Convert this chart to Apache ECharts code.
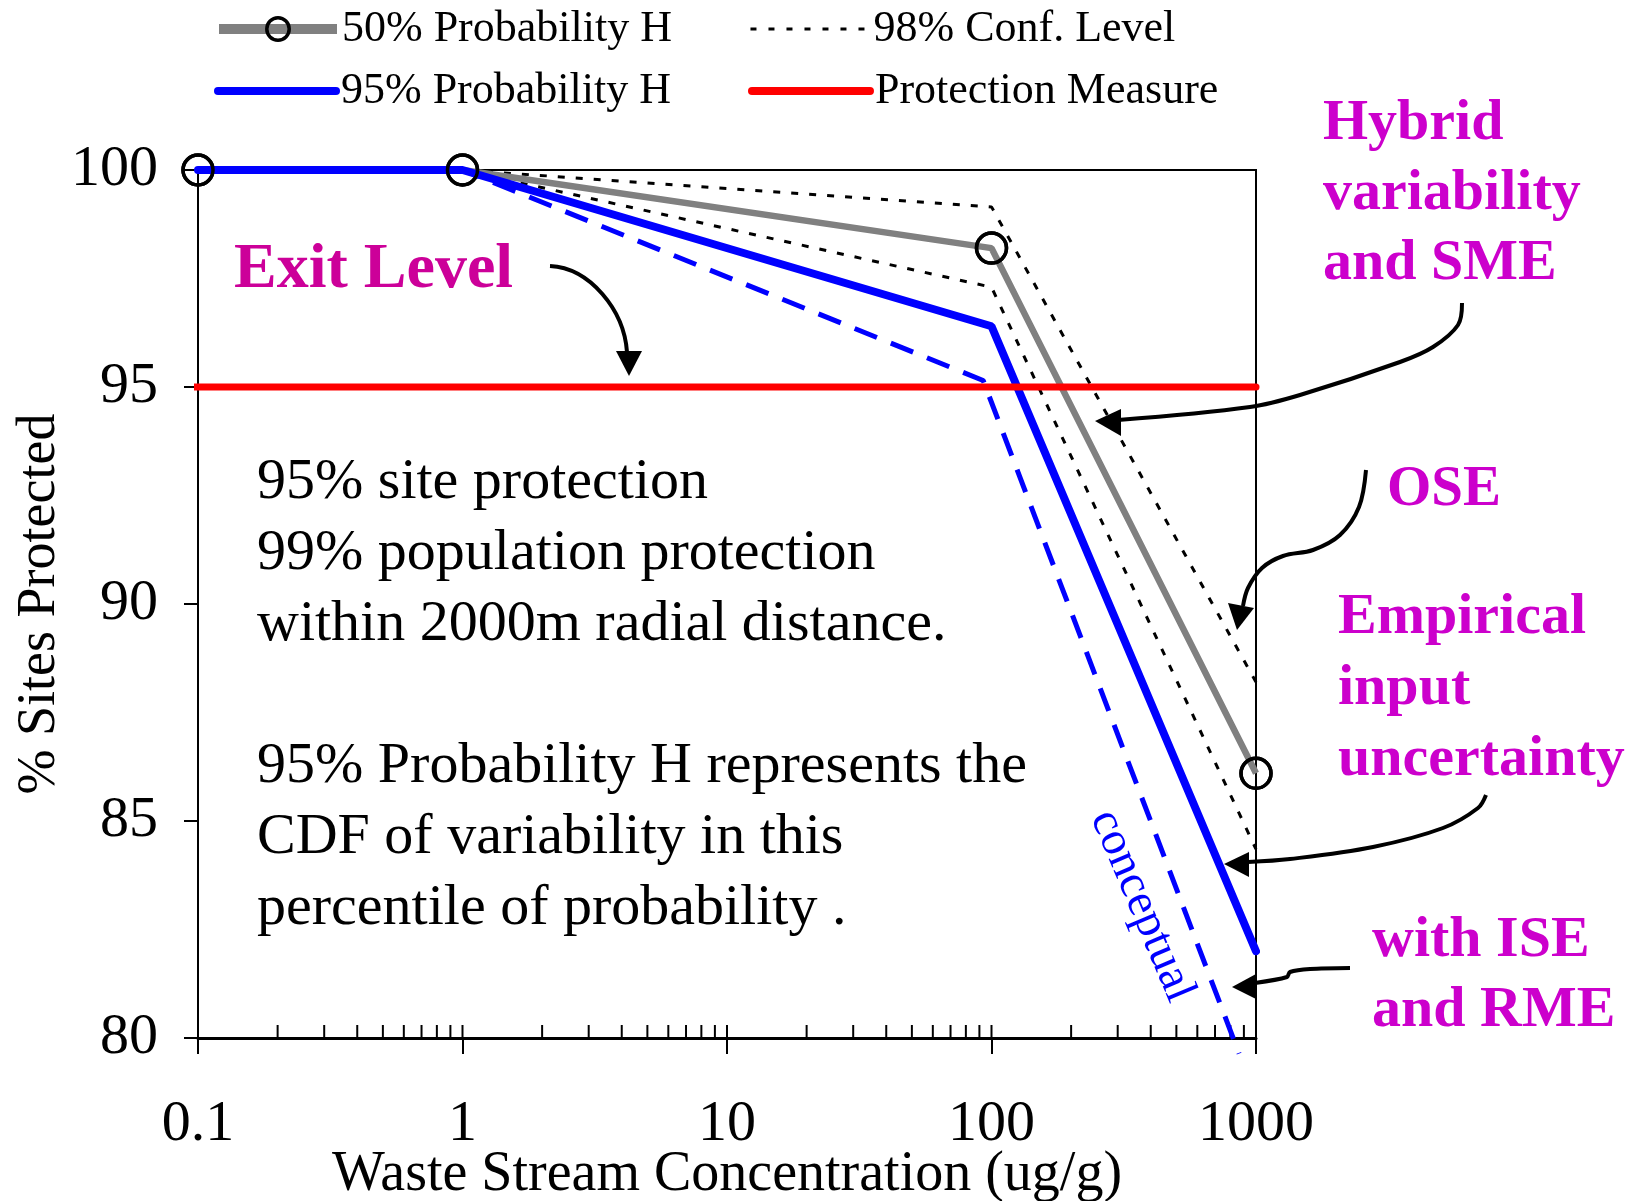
<!DOCTYPE html>
<html>
<head>
<meta charset="utf-8">
<script src="https://cdn.jsdelivr.net/npm/echarts@6/dist/echarts.min.js"></script>
<style>
  html, body { margin: 0; padding: 0; background: #fff; }
  #chart { width: 1633px; height: 1201px; }
</style>
</head>
<body>
<div id="chart"></div>
<script>
// waste stream concentration (ug/g) and % sites protected
const concX = [0.1, 1, 100, 1000];
const prob50 = [100, 100, 98.2, 86.1];
const prob95 = [100, 100, 96.4, 82.0];
const confUpper = [100, 100, 99.15, 88.2];
const confLower = [100, 100, 97.3, 84.35];
const conceptualX = [1, 93, 863];
const conceptualY = [100, 95.15, 79.64];
const protectionX = [0.087, 1000];
const protectionY = [95, 95];
const majorTicks = [0.1, 1, 10, 100, 1000];
const minorTicks = [0.2, 0.3, 0.4, 0.5, 0.6, 0.7, 0.8, 0.9,
  2, 3, 4, 5, 6, 7, 8, 9, 20, 30, 40, 50, 60, 70, 80, 90,
  200, 300, 400, 500, 600, 700, 800, 900];

const serif = "'Liberation Serif', 'Times New Roman', serif";
const pair = (xs, ys) => xs.map((x, i) => [x, ys[i]]);
const noSymbol = { color: "rgba(0,0,0,0)", borderWidth: 0 };

const chart = echarts.init(document.getElementById("chart"));

const legendCommon = {
  left: 209,
  itemWidth: 118,
  itemHeight: 28,
  itemGap: 77,
  textStyle: { fontFamily: serif, fontSize: 44, color: "#000", lineHeight: 28 }
};

chart.setOption({
  animation: false,
  backgroundColor: "#fff",
  legend: [
    Object.assign({
      top: 2,
      data: [
        { name: "50% Probability H", lineStyle: { width: 10 },
          itemStyle: { color: "rgba(0,0,0,0)", borderColor: "#000", borderWidth: 3.5 } },
        { name: "98% Conf. Level", lineStyle: { width: 3, type: [6, 12] }, itemStyle: noSymbol }
      ]
    }, legendCommon),
    Object.assign({
      top: 64,
      data: [
        { name: "95% Probability H", lineStyle: { width: 8, cap: "round" }, itemStyle: noSymbol },
        { name: "Protection Measure", lineStyle: { width: 8, cap: "round" }, itemStyle: noSymbol }
      ]
    }, legendCommon)
  ],
  grid: {
    left: 198, right: 377, top: 170, bottom: 163,
    outerBoundsMode: "none",
    containLabel: false,
    show: true, borderColor: "#000", borderWidth: 2
  },
  xAxis: {
    type: "log",
    logBase: 10,
    min: 0.1,
    max: 1000,
    name: "Waste Stream Concentration (ug/g)",
    nameLocation: "middle",
    nameGap: 109,
    nameMoveOverlap: false,
    nameTextStyle: { fontFamily: serif, fontSize: 56, color: "#000" },
    axisLine: { lineStyle: { color: "#000", width: 3 } },
    axisTick: { show: true, inside: false, length: 16, lineStyle: { color: "#000", width: 2 } },
    axisLabel: {
      margin: 58,
      fontFamily: serif, fontSize: 58, color: "#000",
      formatter: v => String(Number(v.toPrecision(6)))
    },
    splitLine: { show: false }
  },
  yAxis: {
    type: "value",
    min: 80,
    max: 100,
    interval: 5,
    name: "% Sites Protected",
    nameLocation: "middle",
    nameGap: 131,
    nameMoveOverlap: false,
    nameTextStyle: { fontFamily: serif, fontSize: 54, color: "#000" },
    axisLine: { show: true, lineStyle: { color: "#000", width: 2 } },
    axisTick: { show: true, inside: false, length: 14, lineStyle: { color: "#000", width: 2 } },
    axisLabel: { margin: 40, fontFamily: serif, fontSize: 58, color: "#000" },
    splitLine: { show: false }
  },
  series: [
    {
      type: "custom",
      name: "innerTicks",
      silent: true,
      data: majorTicks.concat(minorTicks).map(v => [v, 80]),
      renderItem: (params, api) => {
        const p = api.coord([api.value(0), api.value(1)]);
        return {
          type: "line",
          shape: { x1: p[0], y1: p[1], x2: p[0], y2: p[1] - 13 },
          style: { stroke: "#000", lineWidth: 2 }
        };
      },
      z: 1
    },
    {
      name: "98% Conf. Level",
      type: "line",
      data: pair(concX, confUpper),
      symbol: "none",
      lineStyle: { color: "#000", width: 3, type: [7, 11] },
      itemStyle: { color: "#000" },
      z: 2
    },
    {
      name: "98% Conf. Level",
      type: "line",
      data: pair(concX, confLower),
      symbol: "none",
      lineStyle: { color: "#000", width: 3, type: [7, 11] },
      itemStyle: { color: "#000" },
      z: 2
    },
    {
      name: "50% Probability H",
      type: "line",
      data: pair(concX, prob50),
      symbol: "circle",
      symbolSize: 30,
      lineStyle: { color: "#808080", width: 6.5 },
      itemStyle: { color: "rgba(0,0,0,0)", borderColor: "#000", borderWidth: 3.5 },
      z: 3
    },
    {
      name: "conceptual",
      type: "line",
      data: pair(conceptualX, conceptualY),
      symbol: "none",
      clip: false,
      lineStyle: { color: "#0000ff", width: 5, type: [24, 15], dashOffset: 6 },
      z: 4
    },
    {
      name: "95% Probability H",
      type: "line",
      data: pair(concX, prob95),
      symbol: "none",
      lineStyle: { color: "#0000ff", width: 8, cap: "round" },
      itemStyle: { color: "#0000ff" },
      z: 5
    },
    {
      name: "Protection Measure",
      type: "line",
      data: pair(protectionX, protectionY),
      symbol: "none",
      clip: false,
      lineStyle: { color: "#ff0000", width: 7, cap: "round" },
      itemStyle: { color: "#ff0000" },
      z: 6
    },
    {
      name: "markers50",
      type: "scatter",
      data: pair(concX, prob50),
      symbol: "circle",
      symbolSize: 30,
      clip: false,
      itemStyle: { color: "rgba(0,0,0,0)", borderColor: "#000", borderWidth: 3.5, opacity: 1 },
      z: 8
    }
  ],
  graphic: [
    // notes inside plot
    {
      type: "text", x: 257, y: 447, z: 100,
      style: {
        text: "95% site protection\n99% population protection\nwithin 2000m radial distance.\n\n95% Probability H represents the\nCDF of variability in this\npercentile of probability .",
        font: "58px " + serif, fill: "#000", lineHeight: 71
      }
    },
    {
      type: "text", x: 234, y: 270, z: 100,
      style: { text: "Exit Level", font: "bold 64px " + serif, fill: "#cc0099", verticalAlign: "middle" }
    },
    {
      type: "text", x: 1323, y: 89, z: 100,
      style: { text: "Hybrid\nvariability\nand SME", font: "bold 58px " + serif, fill: "#cc00cc", lineHeight: 70 }
    },
    {
      type: "text", x: 1387, y: 490, z: 100,
      style: { text: "OSE", font: "bold 57px " + serif, fill: "#cc00cc", verticalAlign: "middle" }
    },
    {
      type: "text", x: 1338, y: 583, z: 100,
      style: { text: "Empirical\ninput\nuncertainty", font: "bold 58px " + serif, fill: "#cc00cc", lineHeight: 71 }
    },
    {
      type: "text", x: 1372, y: 906, z: 100,
      style: { text: "with ISE\nand RME", font: "bold 58px " + serif, fill: "#cc00cc", lineHeight: 70 }
    },
    {
      type: "text", x: 1142, y: 906, z: 100,
      rotation: -67 * Math.PI / 180,
      style: { text: "conceptual", font: "47px " + serif, fill: "#0000ff", align: "center", verticalAlign: "middle" }
    },
    // arrows
    {
      type: "bezierCurve", z: 100,
      shape: { x1: 550, y1: 266, cpx1: 590, cpy1: 268, cpx2: 624, cpy2: 310, x2: 627, y2: 352 },
      style: { stroke: "#000", lineWidth: 4, fill: null }
    },
    {
      type: "polygon", z: 100,
      shape: { points: [[629, 376], [616, 351], [642, 351]] },
      style: { fill: "#000" }
    },
    {
      type: "polyline", z: 100,
      shape: { points: [[1462, 303], [1458, 325], [1433, 347], [1400, 362], [1300, 395], [1250, 407], [1118, 420]], smooth: 0.35 },
      style: { stroke: "#000", lineWidth: 4, fill: null }
    },
    {
      type: "polygon", z: 100,
      shape: { points: [[1095, 421], [1121, 409], [1121, 436]] },
      style: { fill: "#000" }
    },
    {
      type: "polyline", z: 100,
      shape: { points: [[1366, 470], [1359, 507], [1340, 535], [1313, 550], [1283, 556], [1262, 568], [1248, 588], [1243, 606]], smooth: 0.35 },
      style: { stroke: "#000", lineWidth: 4, fill: null }
    },
    {
      type: "polygon", z: 100,
      shape: { points: [[1237, 630], [1228, 603], [1254, 608]] },
      style: { fill: "#000" }
    },
    {
      type: "polyline", z: 100,
      shape: { points: [[1486, 795], [1478, 808], [1443, 828], [1373, 847], [1290, 859], [1248, 862]], smooth: 0.35 },
      style: { stroke: "#000", lineWidth: 4, fill: null }
    },
    {
      type: "polygon", z: 100,
      shape: { points: [[1224, 864], [1249, 852], [1249, 877]] },
      style: { fill: "#000" }
    },
    {
      type: "polyline", z: 100,
      shape: { points: [[1350, 968], [1310, 969], [1290, 972], [1287, 977], [1255, 983]], smooth: 0.3 },
      style: { stroke: "#000", lineWidth: 4, fill: null }
    },
    {
      type: "polygon", z: 100,
      shape: { points: [[1232, 987], [1256, 974], [1256, 999]] },
      style: { fill: "#000" }
    }
  ]
});
</script>
</body>
</html>
